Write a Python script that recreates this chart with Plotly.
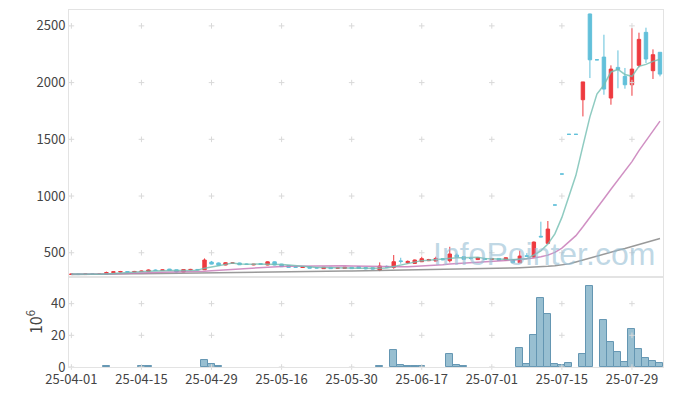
import pandas as pd
import plotly.graph_objects as go

# ---------------- data ----------------
holidays = ["2025-05-01", "2025-05-05", "2025-05-06", "2025-06-03", "2025-06-06"]
days = [d.strftime("%Y-%m-%d") for d in pd.bdate_range("2025-04-01", "2025-08-04")
        if d.strftime("%Y-%m-%d") not in holidays]

open_ = [308, 312, 308, 313, 310, 311, 326, 330, 334, 330,
         334, 336, 348, 344, 356, 350, 331, 350, 353, 350,
         418, 410, 392, 408, 410, 400, 393, 404, 392, 420,
         400, 388, 376, 370, 376, 368, 360, 372, 364, 362,
         372, 377, 370, 368, 347, 380, 371, 428, 412, 406,
         421, 430, 427, 448, 430, 480, 465, 452, 440, 450,
         440, 450, 436, 441, 412, 474, 462, 645, 583, 921,
         1194, 1544, 1544, 1849, 2605, 2201, 2225, 1864, 2134, 2055,
         1981, 2152, 2443, 2105, 2267]
high = [314, 314, 315, 315, 313, 334, 335, 340, 337, 340,
        342, 352, 352, 352, 358, 352, 356, 358, 356, 450,
        428, 414, 416, 418, 412, 404, 402, 406, 424, 424,
        402, 390, 380, 378, 378, 372, 374, 374, 372, 374,
        374, 380, 372, 370, 415, 388, 480, 456, 432, 440,
        465, 446, 465, 452, 553, 495, 468, 462, 462, 454,
        452, 452, 460, 446, 518, 497, 600, 774, 780, 921,
        1194, 1544, 1544, 2006, 2608, 2201, 2422, 2152, 2284, 2129,
        2481, 2440, 2484, 2293, 2267]
low = [305, 306, 307, 308, 308, 310, 322, 326, 328, 329,
       332, 334, 342, 342, 340, 328, 329, 346, 348, 348,
       398, 386, 390, 404, 392, 396, 390, 396, 390, 390,
       374, 368, 368, 366, 362, 364, 358, 358, 358, 360,
       358, 360, 354, 352, 338, 370, 359, 404, 402, 402,
       418, 426, 424, 434, 415, 456, 440, 440, 436, 436,
       436, 430, 432, 408, 408, 462, 458, 636, 580, 921,
       1194, 1544, 1544, 1702, 2040, 2201, 1893, 1805, 1950, 1946,
       1884, 2134, 2172, 2032, 2055]
close = [312, 308, 313, 310, 311, 326, 332, 334, 330, 335,
         338, 348, 344, 349, 343, 331, 352, 353, 350, 436,
         400, 390, 412, 410, 394, 398, 399, 398, 420, 392,
         377, 371, 372, 375, 364, 366, 372, 360, 367, 372,
         360, 362, 358, 356, 383, 374, 421, 424, 424, 436,
         448, 440, 450, 438, 489, 462, 442, 450, 456, 440,
         450, 434, 456, 412, 471, 468, 594, 640, 709, 921,
         1194, 1544, 1544, 2006, 2201, 2201, 1943, 2119, 2115, 1981,
         2119, 2381, 2208, 2246, 2075]
# long moving average
ma_long = [308, 308, 309, 309, 310, 310, 311, 312, 313, 314,
           315, 316, 317, 318, 319, 320, 321, 322, 323, 324,
           325, 326, 327, 328, 329, 330, 331, 332, 333, 334,
           334, 335, 335, 336, 336, 337, 337, 338, 338, 339,
           339, 340, 340, 341, 342, 343, 344, 345, 346, 347,
           348, 349, 350, 351, 352, 354, 355, 356, 357, 358,
           360, 362, 364, 366, 368, 370, 373, 376, 380, 385,
           392, 402, 418, 436, 455, 473, 490, 506, 522, 538,
           555, 572, 590, 608, 626]
# volume (millions)
volume = [0, 0, 0, 0, 0, 0.5, 0, 0, 0, 0,
          0.5, 0.5, 0, 0, 0, 0, 0, 0, 0, 4.6,
          1.7, 0.4, 0, 0, 0, 0, 0, 0, 0, 0,
          0, 0, 0, 0, 0, 0, 0, 0, 0, 0,
          0, 0, 0, 0, 0.8, 0, 10.5, 1.5, 0.4, 0.4,
          0.4, 0, 0, 0, 8.4, 1.5, 0.4, 0, 0, 0,
          0, 0, 0, 0, 12.2, 2.1, 20.0, 43.8, 33.7, 2.1,
          1.05, 2.7, 0, 8.0, 51.0, 0, 29.5, 15.7, 9.3, 3.0,
          24.2, 11.6, 5.9, 3.6, 2.3]

price_ticks = [500, 1000, 1500, 2000, 2500]
vol_ticks = [0, 20, 40]
xtick_days = days[::10]
xtick_text = [pd.Timestamp(d).strftime("%y-%m-%d") for d in xtick_days]

# ---------------- styles ----------------
RED = "#ee3a3f"
BLUE = "#62c0da"
FONT = "Noto Sans CJK KR"

s_close = pd.Series(close, dtype=float)
ma5 = s_close.rolling(5, min_periods=1).mean()
ma20 = s_close.rolling(20, min_periods=1).mean()

fig = go.Figure()

cross = dict(symbol="cross-thin", size=4, line=dict(color="#d9d9d9", width=1))
gx = [d for d in xtick_days for _ in price_ticks]
gy = [p for _ in xtick_days for p in price_ticks]
fig.add_trace(go.Scatter(x=gx, y=gy, mode="markers", xaxis="x", yaxis="y", marker=cross,
                         hoverinfo="skip", showlegend=False))
gx2 = [d for d in xtick_days for _ in vol_ticks]
gy2 = [p for _ in xtick_days for p in vol_ticks]
fig.add_trace(go.Scatter(x=gx2, y=gy2, mode="markers", xaxis="x2", yaxis="y2", marker=cross,
                         hoverinfo="skip", showlegend=False, cliponaxis=False))

# candles split by direction
up = [c > o for o, c in zip(open_, close)]
for flag, col in ((True, RED), (False, BLUE)):
    idx = [i for i, u in enumerate(up) if u == flag]
    fig.add_trace(go.Candlestick(
        x=[days[i] for i in idx], open=[open_[i] for i in idx], high=[high[i] for i in idx],
        low=[low[i] for i in idx], close=[close[i] for i in idx],
        increasing=dict(line=dict(color=col, width=1), fillcolor=col),
        decreasing=dict(line=dict(color=col, width=1), fillcolor=col),
        whiskerwidth=0, xaxis="x", yaxis="y", showlegend=False, hoverinfo="skip"))

# moving averages
fig.add_trace(go.Scatter(x=days, y=ma_long, mode="lines", xaxis="x", yaxis="y",
                         line=dict(color="rgba(135,135,135,0.85)", width=1.5), showlegend=False))
fig.add_trace(go.Scatter(x=days, y=ma20, mode="lines", xaxis="x", yaxis="y",
                         line=dict(color="rgba(200,125,185,0.85)", width=1.5), showlegend=False))
fig.add_trace(go.Scatter(x=days, y=ma5, mode="lines", xaxis="x", yaxis="y",
                         line=dict(color="rgba(115,190,178,0.8)", width=1.5), showlegend=False))

# volume
fig.add_trace(go.Bar(x=days, y=volume, xaxis="x2", yaxis="y2",
                     marker=dict(color="rgba(152,191,209,1)",
                                 line=dict(color="rgba(100,150,178,1)",
                                           width=[1 if v > 0 else 0 for v in volume])),
                     showlegend=False, hoverinfo="skip"))

axis_common = dict(showline=True, linecolor="#e3e3e3", linewidth=1, mirror=True,
                   showgrid=False, zeroline=False, ticks="", automargin=False)
xr = [-0.34, 84.43]
# the page body adds an 8px offset; margins compensate
fig.update_layout(
    width=665, height=388,
    margin=dict(l=61, r=10, t=2, b=29, autoexpand=False),
    plot_bgcolor="white", paper_bgcolor="white",
    font=dict(family=FONT, size=13, color="#444"),
    bargap=0, showlegend=False,
    xaxis=dict(axis_common, type="category", categoryorder="array", categoryarray=days,
               range=xr, showticklabels=False, rangeslider=dict(visible=False),
               domain=[0, 1], anchor="y"),
    xaxis2=dict(axis_common, type="category", categoryorder="array", categoryarray=days,
                range=xr, tickvals=xtick_days, ticktext=xtick_text, matches="x",
                domain=[0, 1], anchor="y2"),
    yaxis=dict(axis_common, domain=[0.252, 1], range=[286, 2640], tickvals=price_ticks,
               anchor="x"),
    yaxis2=dict(axis_common, domain=[0, 0.252], range=[0, 56.8], tickvals=vol_ticks,
                anchor="x2", title=dict(text="10<sup>6</sup>", standoff=4)),
    annotations=[dict(text="InfoPointer.com", xref="x domain", yref="y domain",
                      x=0.99, y=0.085, xanchor="right", yanchor="middle", showarrow=False,
                      font=dict(family="Liberation Sans", size=32, color="rgba(150,190,212,0.6)"))],
)

fig.write_html("out.html")
